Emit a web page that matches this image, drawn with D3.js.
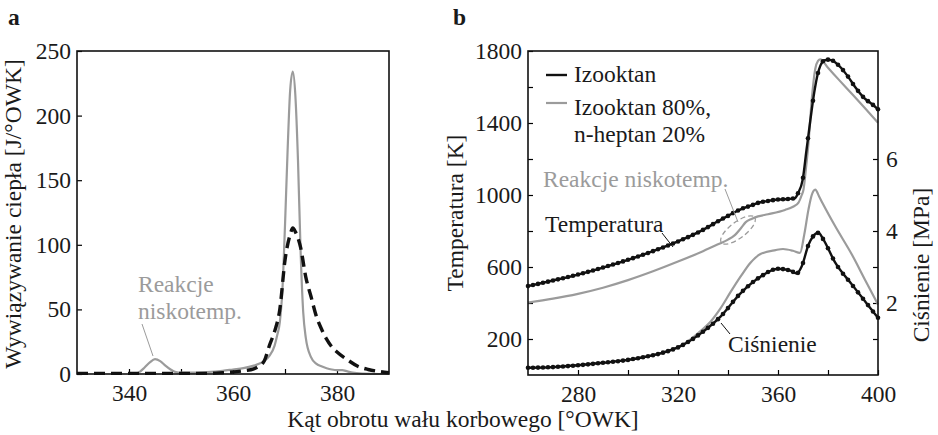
<!DOCTYPE html>
<html>
<head>
<meta charset="utf-8">
<script src="https://cdn.jsdelivr.net/npm/d3@7"></script>
<style>
  body { margin: 0; background: #fff; }
  svg text { font-family: "Liberation Serif", "Times New Roman", Times, "DejaVu Serif", serif; }
</style>
</head>
<body>
<script>
// panel a: heat release [J/°OWK] vs crank angle
const angleAMix = [341, 342, 343, 344, 345, 346, 347, 348, 349, 350, 352, 355, 358, 360, 362, 364, 365, 366, 367, 368, 368.5, 369, 369.5, 370, 370.5, 371, 371.5, 372, 372.5, 373, 373.5, 374, 375, 376, 377, 378, 379, 380, 381, 382, 383, 385, 388, 390];
const heatAMix = [0, 1.5, 5, 9, 11.5, 10, 6.5, 3.5, 1.5, 1, 1, 1.5, 2.5, 3.5, 4.5, 6.5, 8, 10, 14, 22, 30, 40, 65, 115, 173, 220, 234, 215, 165, 95, 48, 28, 13, 8, 6, 4.5, 3.5, 3, 3, 2, 1, 0.3, 0, 0];
const angleAIso = [330, 335, 340, 345, 350, 355, 358, 360, 362, 364, 365, 366, 367, 368, 369, 370, 371, 371.5, 372, 373, 374, 375, 376, 377, 378, 379, 380, 382, 384, 386, 388, 390];
const heatAIso = [0.5, 0.5, 0.5, 0.5, 0.5, 0.5, 1, 1.5, 2.5, 4, 6, 10, 22, 33, 50, 88, 108, 113, 110, 98, 75, 60, 45, 35, 27, 21, 17, 11, 6, 3.5, 2, 1];
const xTicksA = [340, 350, 360, 370, 380];
const xLabelsA = [340, 360, 380];
const yTicksA = [0, 50, 100, 150, 200, 250];

// panel b: temperature [K] and pressure [MPa] vs crank angle
const angleTempIso = [260, 270, 280, 290, 300, 310, 320, 330, 336, 340, 342.6, 346, 349.4, 352, 356, 360, 364, 366.8, 368, 369.9, 371.4, 372.9, 374.5, 375.8, 377, 378.5, 380, 381.6, 384.9, 388.3, 391, 394.3, 397.7, 400];
const tempIso = [494, 525, 558, 597, 640, 688, 742, 806, 854, 884, 904, 926, 942, 956, 967, 975, 978, 982, 1010, 1087, 1250, 1411, 1570, 1667, 1720, 1748, 1752, 1748, 1711, 1652, 1597, 1541, 1504, 1476];
const angleTempMix = [260, 270, 280, 290, 300, 310, 320, 330, 336, 340, 342.6, 345.3, 347, 349.4, 352, 356, 362.8, 366, 368.2, 369.5, 370.2, 371.2, 372.2, 373.5, 374.9, 376, 376.9, 380, 384.3, 390, 395, 400];
const tempMix = [402, 424, 451, 485, 527, 576, 630, 688, 726, 752, 776, 818, 848, 867, 881, 893, 917, 935, 958, 1000, 1030, 1150, 1290, 1530, 1700, 1745, 1754, 1707, 1641, 1555, 1479, 1402];
const anglePresIso = [260, 270, 280, 290, 300, 305, 313, 321, 329, 337, 345, 353, 360, 365, 367.5, 369.5, 372.2, 374, 376.2, 378, 382.9, 389.6, 395, 400];
const presIso = [0.2, 0.22, 0.27, 0.34, 0.42, 0.48, 0.6, 0.8, 1.15, 1.62, 2.27, 2.73, 2.95, 2.9, 2.82, 3.02, 3.62, 3.85, 3.95, 3.78, 3.12, 2.51, 2.03, 1.59];
const anglePresMix = [260, 270, 280, 290, 300, 305, 313, 321, 325, 329, 333, 337, 341, 345, 349, 353, 359, 362, 366, 368.8, 370.5, 372.2, 373.5, 374.9, 376.5, 378, 382.9, 389.6, 395, 400];
const presMix = [0.2, 0.22, 0.27, 0.34, 0.42, 0.48, 0.6, 0.81, 0.99, 1.22, 1.48, 1.85, 2.3, 2.73, 3.12, 3.36, 3.47, 3.5, 3.45, 3.39, 3.9, 4.6, 5.0, 5.15, 4.95, 4.75, 4.13, 3.34, 2.62, 1.96];
const xTicksB = [280, 300, 320, 340, 360, 380, 400];
const xLabelsB = [280, 320, 360, 400];
const yTicksB = [200, 400, 600, 800, 1000, 1200, 1400, 1600, 1800];
const yLabelsB = [200, 600, 1000, 1400, 1800];
const pTicks = [1, 2, 3, 4, 5, 6];
const pLabels = [2, 4, 6];

const GRAY = '#9b9b9b';
const FS = 23.5;
const SERIF = '"Liberation Serif", "Times New Roman", Times, "DejaVu Serif", serif';

const svg = d3.select('body').append('svg')
  .attr('width', 938)
  .attr('height', 435)
  .style('font-family', SERIF);

const zip = (xs, ys) => xs.map((x, i) => [x, ys[i]]);

/**
 * Styles an axis group: serif text, thin ticks, no domain path
 */
function styleAxis(g) {
  g.attr('font-family', null).attr('font-size', FS);
  g.select('.domain').remove();
  g.selectAll('.tick line').attr('stroke', '#000').attr('stroke-width', 1.2);
  g.selectAll('.tick text').attr('fill', '#1a1a1a').style('font-family', SERIF);
}

function frame(x, y) {
  svg.append('rect')
    .attr('x', x.range()[0])
    .attr('y', y.range()[1])
    .attr('width', x.range()[1] - x.range()[0])
    .attr('height', y.range()[0] - y.range()[1])
    .attr('fill', 'none')
    .attr('stroke', '#111')
    .attr('stroke-width', 1.6);
}

function drawLine(pts, x, y, color, width, dash) {
  const line = d3.line()
    .x(d => x(d[0]))
    .y(d => y(d[1]))
    .curve(d3.curveMonotoneX);
  return svg.append('path')
    .datum(pts)
    .attr('d', line)
    .attr('fill', 'none')
    .attr('stroke', color)
    .attr('stroke-width', width)
    .attr('stroke-linejoin', 'round')
    .attr('stroke-dasharray', dash || null);
}

// markers every 2° sitting on a drawn path
function addDots(path, x, from, to, step) {
  const node = path.node();
  const total = node.getTotalLength();
  for (let a = from; a <= to + 1e-9; a += step) {
    const target = x(a);
    let lo = 0, hi = total;
    for (let i = 0; i < 30; i++) {
      const mid = (lo + hi) / 2;
      if (node.getPointAtLength(mid).x < target) lo = mid; else hi = mid;
    }
    const p = node.getPointAtLength((lo + hi) / 2);
    svg.append('circle')
      .attr('cx', p.x)
      .attr('cy', p.y)
      .attr('r', 2.3)
      .attr('fill', '#111');
  }
}

function label(txt, x, y, opts = {}) {
  return svg.append('text')
    .attr('x', x)
    .attr('y', y)
    .attr('font-size', opts.size || FS)
    .attr('font-weight', opts.bold ? 'bold' : null)
    .attr('fill', opts.color || '#1a1a1a')
    .attr('text-anchor', opts.anchor || 'start')
    .attr('transform', opts.rotate ? `rotate(-90,${x},${y})` : null)
    .style('font-family', SERIF)
    .text(txt);
}

function leader(x1, y1, x2, y2, color) {
  svg.append('line')
    .attr('x1', x1).attr('y1', y1)
    .attr('x2', x2).attr('y2', y2)
    .attr('stroke', color)
    .attr('stroke-width', 1);
}

// ---------- panel a ----------
const xA = d3.scaleLinear().domain([330, 390]).range([77, 389]);
const yA = d3.scaleLinear().domain([0, 250]).range([374, 51]);

svg.append('g')
  .attr('transform', `translate(0,${yA.range()[0]})`)
  .call(d3.axisBottom(xA).tickValues(xTicksA).tickSize(-5).tickPadding(10)
    .tickFormat(d => xLabelsA.includes(d) ? d : ''))
  .call(styleAxis);

svg.append('g')
  .attr('transform', `translate(${xA.range()[0]},0)`)
  .call(d3.axisLeft(yA).tickValues(yTicksA).tickSize(-5).tickPadding(6))
  .call(styleAxis);

drawLine(zip(angleAMix, heatAMix), xA, yA, GRAY, 2.2);
drawLine(zip(angleAIso, heatAIso), xA, yA, '#111', 3.4, '11,6');
frame(xA, yA);

label('Reakcje', 138, 292, { color: GRAY });
label('niskotemp.', 138, 319, { color: GRAY });
leader(142, 324, 153, 356, GRAY);

label('Wywiązywanie ciepła [J/°OWK]', 21, 214, { rotate: true, anchor: 'middle' });
label('a', 8, 25, { bold: true });

// ---------- panel b ----------
const xB = d3.scaleLinear().domain([260, 400]).range([528, 878]);
const yT = d3.scaleLinear().domain([0, 1800]).range([375, 51]);
const yP = d3.scaleLinear().domain([0, 9]).range([375, 51]);

svg.append('g')
  .attr('transform', `translate(0,${yT.range()[0]})`)
  .call(d3.axisBottom(xB).tickValues(xTicksB).tickSize(-5).tickPadding(10)
    .tickFormat(d => xLabelsB.includes(d) ? d : ''))
  .call(styleAxis);

svg.append('g')
  .attr('transform', `translate(${xB.range()[0]},0)`)
  .call(d3.axisLeft(yT).tickValues(yTicksB).tickSize(-5).tickPadding(6)
    .tickFormat(d => yLabelsB.includes(d) ? d : ''))
  .call(styleAxis);

svg.append('g')
  .attr('transform', `translate(${xB.range()[1]},0)`)
  .call(d3.axisRight(yP).tickValues(pTicks).tickSize(-5).tickPadding(8)
    .tickFormat(d => pLabels.includes(d) ? d : ''))
  .call(styleAxis);

drawLine(zip(angleTempMix, tempMix), xB, yT, GRAY, 2.2);
drawLine(zip(anglePresMix, presMix), xB, yP, GRAY, 2.2);
const tIso = drawLine(zip(angleTempIso, tempIso), xB, yT, '#111', 2.4);
const pIso = drawLine(zip(anglePresIso, presIso), xB, yP, '#111', 2.4);
addDots(tIso, xB, 260, 400, 2);
addDots(pIso, xB, 260, 400, 2);
frame(xB, yT);

// legend
svg.append('line').attr('x1', 546).attr('x2', 567).attr('y1', 75).attr('y2', 75)
  .attr('stroke', '#111').attr('stroke-width', 2.4);
label('Izooktan', 574, 82);
svg.append('line').attr('x1', 546).attr('x2', 567).attr('y1', 103).attr('y2', 103)
  .attr('stroke', GRAY).attr('stroke-width', 2.2);
label('Izooktan 80%,', 574, 115);
label('n-heptan 20%', 574, 142);

// annotations
label('Reakcje niskotemp.', 543, 187, { color: GRAY });
leader(725, 189, 738, 222, GRAY);
svg.append('ellipse')
  .attr('cx', 738).attr('cy', 230)
  .attr('rx', 21).attr('ry', 8)
  .attr('transform', 'rotate(-37,738,230)')
  .attr('fill', 'none')
  .attr('stroke', GRAY)
  .attr('stroke-width', 1.3)
  .attr('stroke-dasharray', '5,3');

label('Temperatura', 545, 232);
leader(662, 233, 673, 247, '#111');
label('Ciśnienie', 728, 352);
leader(730, 334, 721, 323, '#111');

label('Temperatura [K]', 463, 213, { rotate: true, anchor: 'middle' });
label('Ciśnienie [MPa]', 929, 265, { rotate: true, anchor: 'middle' });
label('b', 453, 25, { bold: true });

label('Kąt obrotu wału korbowego [°OWK]', 463, 427, { anchor: 'middle' });
</script>
</body>
</html>
